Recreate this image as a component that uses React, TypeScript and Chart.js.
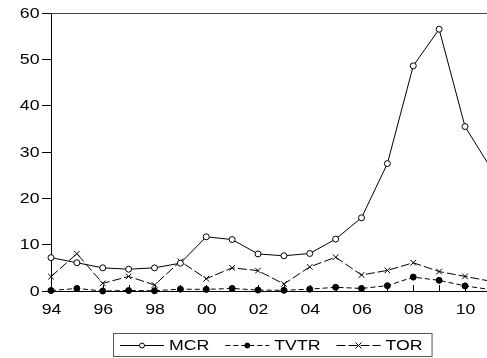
import React, { useEffect, useRef } from "react";
import { Chart, registerables } from "chart.js";

Chart.register(...registerables);

const years = [1994, 1995, 1996, 1997, 1998, 1999, 2000, 2001, 2002, 2003, 2004, 2005, 2006, 2007, 2008, 2009, 2010, 2011];
const mcr = [7.2, 6.1, 5.0, 4.7, 5.0, 6.0, 11.7, 11.1, 8.0, 7.6, 8.1, 11.2, 15.8, 27.5, 48.6, 56.5, 35.5, 26.5];
const tvtr = [0.1, 0.55, 0.0, 0.1, 0.05, 0.4, 0.35, 0.55, 0.2, 0.15, 0.4, 0.8, 0.55, 1.15, 3.0, 2.3, 1.1, 0.3];
const tor = [3.1, 8.05, 1.65, 3.15, 1.3, 6.4, 2.65, 5.0, 4.4, 1.5, 5.2, 7.3, 3.45, 4.45, 6.1, 4.2, 3.15, 2.1];
const yTicks = [0, 10, 20, 30, 40, 50, 60];
const xTickYears = [1994, 1995, 1996, 1997, 1998, 1999, 2000, 2001, 2002, 2003, 2004, 2005, 2006, 2007, 2008, 2009, 2010];
const xLabelYears = [1994, 1996, 1998, 2000, 2002, 2004, 2006, 2008, 2010];
const seriesNames = ["MCR", "TVTR", "TOR"];

const FONT = '"Liberation Sans", Arial, sans-serif';
const STRETCH = 1.18;

function stretchedText(ctx: CanvasRenderingContext2D, text: string, x: number, y: number, align: "left" | "right" | "center") {
  const w = ctx.measureText(text).width * STRETCH;
  let left = x;
  if (align === "right") left = x - w;
  else if (align === "center") left = x - w / 2;
  ctx.save();
  ctx.translate(left, y);
  ctx.scale(STRETCH, 1);
  ctx.textAlign = "left";
  ctx.fillText(text, 0, 0);
  ctx.restore();
  return w;
}

const framePlugin = {
  id: "frame",
  afterDraw(chart: any) {
    const { ctx, chartArea } = chart;
    const xs = chart.scales.x;
    const ys = chart.scales.y;
    ctx.save();
    ctx.strokeStyle = "#444";
    ctx.lineWidth = 1;
    ctx.beginPath();
    ctx.moveTo(chartArea.left, Math.round(chartArea.top) + 0.5);
    ctx.lineTo(chartArea.right, Math.round(chartArea.top) + 0.5);
    ctx.stroke();
    ctx.strokeStyle = "#000";
    ctx.beginPath();
    for (const y of xTickYears) {
      const px = Math.round(xs.getPixelForValue(y)) + 0.5;
      ctx.moveTo(px, chartArea.bottom);
      ctx.lineTo(px, chartArea.bottom - 6);
    }
    ctx.stroke();
    ctx.fillStyle = "#000";
    ctx.font = `15px ${FONT}`;
    ctx.textBaseline = "middle";
    for (const v of yTicks) {
      stretchedText(ctx, String(v), 39.5, ys.getPixelForValue(v) + 0.5, "right");
    }
    for (const yr of xLabelYears) {
      stretchedText(ctx, String(yr).slice(2), xs.getPixelForValue(yr) + 0.5, chartArea.bottom + 19, "center");
    }
    ctx.restore();
  },
};

function drawMarker(ctx: CanvasRenderingContext2D, style: string, x: number, y: number, r: number, fill: string) {
  ctx.save();
  ctx.setLineDash([]);
  ctx.lineWidth = 1;
  ctx.strokeStyle = "#000";
  if (style === "circle") {
    ctx.fillStyle = fill;
    ctx.beginPath();
    ctx.arc(x, y, r, 0, Math.PI * 2);
    ctx.fill();
    ctx.stroke();
  } else {
    ctx.beginPath();
    ctx.moveTo(x - r, y - r);
    ctx.lineTo(x + r, y + r);
    ctx.moveTo(x + r, y - r);
    ctx.lineTo(x - r, y + r);
    ctx.stroke();
  }
  ctx.restore();
}

const legendPlugin = {
  id: "boxLegend",
  afterDraw(chart: any) {
    const ctx: CanvasRenderingContext2D = chart.ctx;
    const boxLeft = 113;
    const boxTop = 333;
    const boxH = 23;
    const cy = 345;
    ctx.save();
    ctx.font = `15px ${FONT}`;
    ctx.textBaseline = "middle";
    let x = boxLeft + 7;
    const sample = 44;
    for (const ds of chart.data.datasets) {
      ctx.strokeStyle = "#000";
      ctx.lineWidth = 1;
      ctx.setLineDash(ds.borderDash || []);
      ctx.beginPath();
      ctx.moveTo(x, cy + 0.5);
      ctx.lineTo(x + sample, cy + 0.5);
      ctx.stroke();
      ctx.setLineDash([]);
      drawMarker(ctx, ds.pointStyle, x + sample / 2, cy + 0.5, ds.pointStyle === "circle" ? 2.5 : 3, ds.pointBackgroundColor);
      x += sample + 5;
      ctx.fillStyle = "#000";
      const w = stretchedText(ctx, ds.label, x, cy + 1, "left");
      x += w + 16;
    }
    const boxRight = x - 7;
    ctx.strokeStyle = "#555";
    ctx.lineWidth = 1;
    ctx.strokeRect(boxLeft + 0.5, boxTop + 0.5, boxRight - boxLeft, boxH);
    ctx.restore();
  },
};

export default function App() {
  const ref = useRef<HTMLCanvasElement>(null);
  useEffect(() => {
    document.body.style.margin = "0";
    document.body.style.overflow = "hidden";
    const canvas = ref.current!;
    const mk = (arr: number[]) => years.map((y, i) => ({ x: y, y: arr[i] }));
    const clip = { left: 6, top: 6, bottom: 6, right: 0 };
    const chart = new Chart(canvas, {
      type: "line",
      data: {
        datasets: [
          {
            label: seriesNames[0],
            data: mk(mcr),
            borderColor: "#000",
            borderWidth: 1,
            pointStyle: "circle",
            pointRadius: 3,
            pointBackgroundColor: "#fff",
            pointBorderColor: "#000",
            pointBorderWidth: 1,
            borderDash: [],
            clip,
          } as any,
          {
            label: seriesNames[1],
            data: mk(tvtr),
            borderColor: "#000",
            borderWidth: 1,
            pointStyle: "circle",
            pointRadius: 3,
            pointBackgroundColor: "#000",
            pointBorderColor: "#000",
            pointBorderWidth: 1,
            borderDash: [5, 3],
            clip,
          } as any,
          {
            label: seriesNames[2],
            data: mk(tor),
            borderColor: "#000",
            borderWidth: 1,
            pointStyle: "crossRot",
            pointRadius: 4,
            pointBackgroundColor: "#000",
            pointBorderColor: "#000",
            pointBorderWidth: 1,
            borderDash: [9, 3],
            clip,
          } as any,
        ],
      },
      options: {
        animation: false,
        responsive: false,
        devicePixelRatio: 1,
        layout: { padding: { left: 0, right: 0, top: 13, bottom: 0 } },
        plugins: { legend: { display: false }, tooltip: { enabled: false } },
        elements: { line: { tension: 0 } },
        scales: {
          x: {
            type: "linear",
            min: 1994,
            max: 2010.85,
            afterBuildTicks: (s: any) => {
              s.ticks = xLabelYears.map((v) => ({ value: v }));
            },
            afterFit: (s: any) => {
              s.height = 67;
            },
            ticks: { display: false },
            grid: { display: false },
            border: { display: true, color: "#000", width: 1 },
          },
          y: {
            min: 0,
            max: 60,
            afterBuildTicks: (s: any) => {
              s.ticks = yTicks.map((v) => ({ value: v }));
            },
            afterFit: (s: any) => {
              s.width = 51;
            },
            ticks: { display: false },
            grid: { display: true, drawOnChartArea: false, drawTicks: true, tickLength: 9, color: "#000" },
            border: { display: true, color: "#000", width: 1 },
          },
        },
      },
      plugins: [framePlugin, legendPlugin],
    });
    return () => chart.destroy();
  }, []);
  return (
    <div style={{ width: 487, height: 358, overflow: "hidden" }}>
      <canvas ref={ref} width={492} height={358} style={{ display: "block" }} />
    </div>
  );
}
